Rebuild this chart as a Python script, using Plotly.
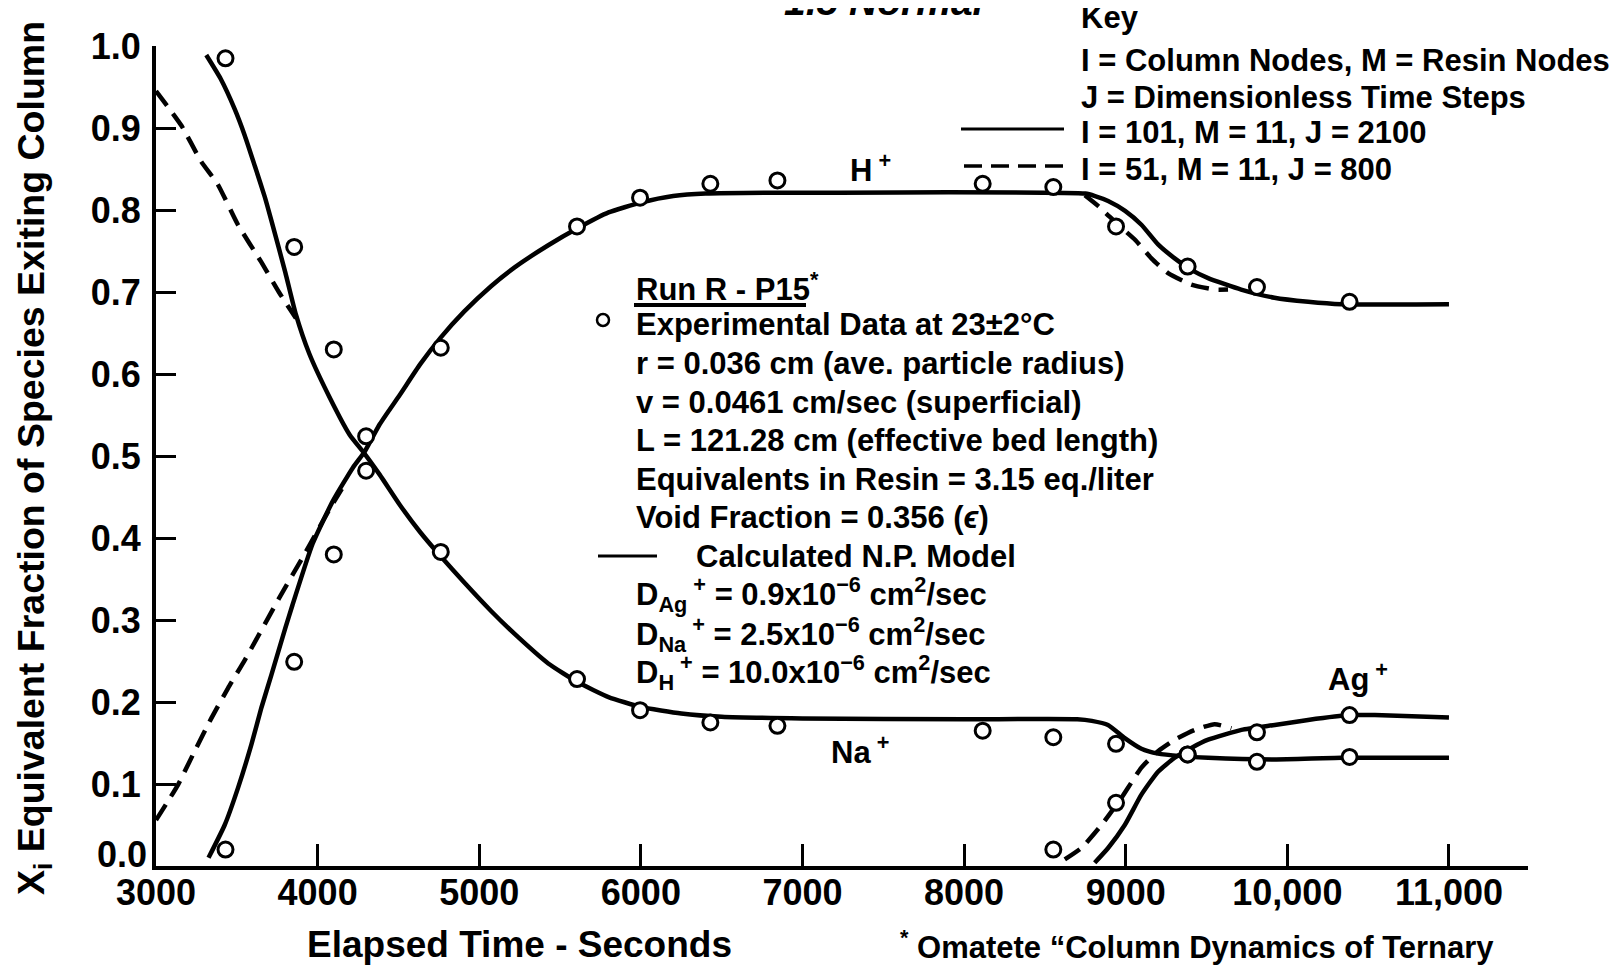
import plotly.graph_objects as go

# ---------------- data ----------------
t_exp = [3430, 3855, 4100, 4300, 4762, 5605, 5995, 6430, 6845, 8115, 8552, 8940, 9383, 9812, 10385]
h_exp = [0.020, 0.249, 0.380, 0.482, 0.632, 0.780, 0.815, 0.832, 0.836, 0.832, 0.828, 0.780, 0.731, 0.706, 0.688]
na_exp = [0.985, 0.755, 0.630, 0.524, 0.383, 0.228, 0.190, 0.175, 0.171, 0.165, 0.157, 0.149, 0.136, 0.127, 0.133]
ag_exp = [None, None, None, None, None, None, None, None, None, None, 0.020, 0.077, 0.136, 0.163, 0.184]

# solid model curves (I=101, M=11, J=2100)
t_na_solid = [3311, 3400, 3487, 3549, 3611, 3673, 3714, 3800, 3865, 3948, 4073, 4198, 4290, 4385, 4510,
              4635, 4760, 4906, 5073, 5219, 5427, 5611, 5800, 6000, 6250, 6500, 7000, 8000, 8700, 8790,
              8890, 8994, 9097, 9200, 9344, 9510, 9920, 10334, 11000]
na_solid = [0.989, 0.960, 0.923, 0.891, 0.854, 0.816, 0.787, 0.724, 0.673, 0.625, 0.572, 0.526, 0.503, 0.477, 0.440,
            0.407, 0.378, 0.346, 0.311, 0.283, 0.247, 0.224, 0.206, 0.194, 0.186, 0.182, 0.180, 0.179, 0.179, 0.177,
            0.172, 0.156, 0.143, 0.137, 0.134, 0.132, 0.130, 0.132, 0.132]

t_h_solid = [3325, 3425, 3507, 3590, 3652, 3714, 3800, 3844, 3969, 4094, 4219, 4290, 4385, 4510, 4635,
             4760, 4906, 5073, 5219, 5427, 5611, 5800, 6000, 6200, 6400, 8750, 8810, 8891, 8996, 9097,
             9200, 9303, 9406, 9510, 9714, 9920, 10129, 10334, 11000]
h_solid = [0.010, 0.050, 0.095, 0.148, 0.193, 0.233, 0.290, 0.318, 0.393, 0.445, 0.486, 0.505, 0.539, 0.575, 0.612,
           0.644, 0.676, 0.707, 0.730, 0.757, 0.778, 0.797, 0.809, 0.817, 0.820, 0.820, 0.817, 0.811, 0.799, 0.782,
           0.758, 0.741, 0.727, 0.717, 0.703, 0.693, 0.688, 0.685, 0.685]

t_ag_solid = [8808, 8891, 8994, 9097, 9200, 9303, 9406, 9510, 9716, 9922, 10128, 10376, 10541, 11000]
ag_solid = [0.004, 0.022, 0.050, 0.087, 0.115, 0.132, 0.144, 0.154, 0.166, 0.172, 0.178, 0.184, 0.184, 0.181]

# dashed model curves (I=51, M=11, J=800)
t_na_dash = [3000, 3157, 3280, 3383, 3507, 3650, 3760, 3866]
na_dash = [0.945, 0.903, 0.859, 0.831, 0.782, 0.737, 0.700, 0.668]

t_h_dash_a = [3000, 3136, 3239, 3342, 3446, 3552, 3760, 3927, 4073, 4150]
h_dash_a = [0.056, 0.099, 0.140, 0.180, 0.217, 0.252, 0.326, 0.383, 0.435, 0.460]

t_h_dash_b = [8747, 8829, 8953, 9056, 9159, 9262, 9406, 9550, 9633]
h_dash_b = [0.818, 0.805, 0.782, 0.764, 0.741, 0.723, 0.709, 0.703, 0.703]

t_ag_dash = [8623, 8726, 8850, 8973, 9097, 9200, 9303, 9427, 9550, 9654]
ag_dash = [0.008, 0.022, 0.050, 0.083, 0.120, 0.140, 0.154, 0.166, 0.173, 0.168]

x_ticks = [3000, 4000, 5000, 6000, 7000, 8000, 9000, 10000, 11000]
x_ticktext = ["3000", "4000", "5000", "6000", "7000", "8000", "9000", "10,000", "11,000"]
y_ticks = [0.0, 0.1, 0.2, 0.3, 0.4, 0.5, 0.6, 0.7, 0.8, 0.9, 1.0]
# the "0.0" label sits raised above the axis in the reference; it is drawn separately below
y_ticktext = ["", "0.1", "0.2", "0.3", "0.4", "0.5", "0.6", "0.7", "0.8", "0.9", "1.0"]
y_zero_label = "0.0"

# ---------------- figure ----------------
W, H = 1620, 965
ML, MR, MT, MB = 148, 100, 38, 107
PW, PH = W - ML - MR, H - MT - MB
FONT = "Liberation Sans, Arial, Helvetica, sans-serif"


def px(X):
    return (X - ML) / PW


def py(Y):
    return (H - MB - Y) / PH


fig = go.Figure()
solid = dict(color="black", width=4.5, shape="spline", smoothing=0.5)
dashed = dict(color="black", width=4.5, dash="18px,10px", shape="spline", smoothing=0.5)

for tx, ty in [(t_na_solid, na_solid), (t_h_solid, h_solid), (t_ag_solid, ag_solid)]:
    fig.add_trace(go.Scatter(x=tx, y=ty, mode="lines", line=solid, showlegend=False, hoverinfo="skip"))
for tx, ty in [(t_na_dash, na_dash), (t_h_dash_a, h_dash_a), (t_h_dash_b, h_dash_b), (t_ag_dash, ag_dash)]:
    fig.add_trace(go.Scatter(x=tx, y=ty, mode="lines", line=dashed, showlegend=False, hoverinfo="skip"))

mk = dict(symbol="circle", size=15, color="white", line=dict(color="black", width=3))
for ty in [h_exp, na_exp, ag_exp]:
    fig.add_trace(go.Scatter(x=t_exp, y=ty, mode="markers", marker=mk, showlegend=False,
                             cliponaxis=False, hoverinfo="skip"))

ann = []


def text(X, Y, s, size=31, anchor="left", yanchor="middle", **kw):
    ann.append(dict(x=px(X), y=py(Y), xref="paper", yref="paper", text=s, showarrow=False,
                    xanchor=anchor, yanchor=yanchor,
                    font=dict(family=FONT, size=size, color="black", weight="bold", **kw)))


# title (cut off at top)
text(774, 17, "1.5 Normal", size=39, yanchor="bottom", style="italic")

# key
kx = 1071
text(kx, 10, "Key")
text(kx, 52, "I = Column Nodes, M = Resin Nodes")
text(kx, 89, "J = Dimensionless Time Steps")
text(kx, 125, "I = 101, M = 11, J = 2100")
text(kx, 161, "I = 51, M = 11, J = 800")

# run block
bx = 626
text(bx, 279, "Run R - P15<sup>*</sup>")
text(bx, 316, "Experimental Data at 23±2°C")
text(bx, 355, "r = 0.036 cm (ave. particle radius)")
text(bx, 394, "v = 0.0461 cm/sec (superficial)")
text(bx, 432, "L = 121.28 cm (effective bed length)")
text(bx, 471, "Equivalents in Resin = 3.15 eq./liter")
text(bx, 509, "Void Fraction = 0.356 (<i>ϵ</i>)")
text(bx + 60, 548, "Calculated N.P. Model")
text(bx, 587, "D<sub>Ag</sub><sup> +</sup> = 0.9x10<sup>−6</sup> cm<sup>2</sup>/sec")
text(bx, 626, "D<sub>Na</sub><sup> +</sup> = 2.5x10<sup>−6</sup> cm<sup>2</sup>/sec")
text(bx, 664, "D<sub>H</sub><sup> +</sup> = 10.0x10<sup>−6</sup> cm<sup>2</sup>/sec")

# species labels
text(862, 160, "H<sup> +</sup>", anchor="center")
text(852, 742, "Na<sup> +</sup>", anchor="center")
text(1350, 669, "Ag<sup> +</sup>", anchor="center")

# raised zero label of the y axis
text(141, 846, y_zero_label, size=36, anchor="right")

# axis titles and footnote
text(511, 936, "Elapsed Time - Seconds", size=37, anchor="center")
text(890, 937, "<sup>*</sup> Omatete “Column Dynamics of Ternary", size=31)
ann.append(dict(x=px(26), y=py(450), xref="paper", yref="paper",
                text="X<sub>i</sub> Equivalent Fraction of Species Exiting Column",
                textangle=-90, showarrow=False, xanchor="center", yanchor="middle",
                font=dict(family=FONT, size=37.5, color="black", weight="bold")))

shapes = [
    # key line samples
    dict(type="line", xref="paper", yref="paper", x0=px(953), x1=px(1056), y0=py(121), y1=py(121),
         line=dict(color="black", width=3)),
    dict(type="line", xref="paper", yref="paper", x0=px(956), x1=px(1056), y0=py(158), y1=py(158),
         line=dict(color="black", width=3.5, dash="18px,9px")),
    # run block underline, circle symbol, solid line symbol
    dict(type="line", xref="paper", yref="paper", x0=px(bx), x1=px(bx + 172), y0=py(297), y1=py(297),
         line=dict(color="black", width=4)),
    dict(type="circle", xref="paper", yref="paper", xsizemode="pixel", ysizemode="pixel",
         xanchor=px(595), yanchor=py(312), x0=-6, x1=6, y0=-6, y1=6,
         line=dict(color="black", width=2.5), fillcolor="white"),
    dict(type="line", xref="paper", yref="paper", x0=px(590), x1=px(649), y0=py(548), y1=py(548),
         line=dict(color="black", width=3)),
]

axis_common = dict(showline=True, linewidth=4, linecolor="black", ticks="inside", tickwidth=3,
                   tickcolor="black", showgrid=False, zeroline=False, automargin=False,
                   tickfont=dict(family=FONT, size=36, color="black", weight="bold"))

fig.update_layout(
    width=W, height=H,
    margin=dict(l=ML, r=MR, t=MT, b=MB, pad=0),
    paper_bgcolor="white", plot_bgcolor="white",
    font=dict(family=FONT, color="black"),
    xaxis=dict(range=[3000, 11489], tickvals=x_ticks, ticktext=x_ticktext, ticklen=22,
               ticklabelstandoff=-8, **axis_common),
    yaxis=dict(range=[0, 1.0], tickvals=y_ticks, ticktext=y_ticktext, ticklen=20,
               ticklabelstandoff=4, **axis_common),
    annotations=ann,
    shapes=shapes,
    showlegend=False,
)

fig.write_html("out.html")
